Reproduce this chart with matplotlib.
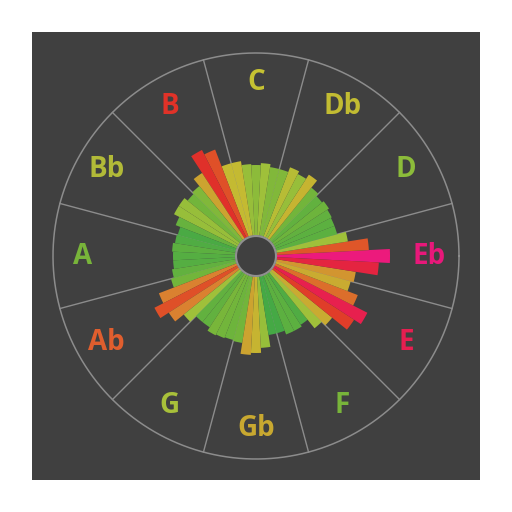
import numpy as np
import matplotlib
matplotlib.use("Agg")
import matplotlib.pyplot as plt
from matplotlib.colors import LinearSegmentedColormap, Normalize

# ---- data ----
keys = ["C", "Db", "D", "Eb", "E", "F", "Gb", "G", "Ab", "A", "Bb", "B"]
key_colors = ["#c6c232", "#c2bc32", "#8cbc3a", "#e8187a", "#e61e50", "#78b43a",
              "#c8a830", "#a8c03a", "#e05e2e", "#78b43a", "#b2ba38", "#e03228"]
# bar angles in degrees (math convention, 0 = Eb direction, counter-clockwise)
bar_angles = list(range(0, 360, 6))
bar_values = [134, 113, 93, 84, 84, 85, 87, 85, 88, 97,
              92, 95, 90, 90, 93, 91, 92, 96, 96, 114,
              119, 99, 90, 88, 92, 92, 86, 81, 82, 84,
              83, 83, 85, 88, 104, 114, 104, 93, 85, 85,
              89, 88, 87, 88, 99, 97, 92, 80, 80, 84,
              84, 82, 93, 98, 117, 125, 109, 98, 101, 123]
# label angle for each key (degrees, math convention)
key_angles = [90, 60, 30, 0, -30, -60, -90, -120, -150, 180, 150, 120]

inner_r = 20
outer_r = 203
label_r = 173

bg = "#404040"
line_col = "#8c8c8c"

vmin, vmax = 78, 134
stops = [(78, "#3aa548"), (84, "#5cb040"), (89, "#78b63a"), (93, "#a0c03a"),
         (96, "#c4ba32"), (99, "#cca430"), (104, "#da8030"), (110, "#dc6a2a"),
         (115, "#e04a28"), (120, "#e02a2a"), (126, "#e81e55"), (134, "#ec1a7c")]
cmap = LinearSegmentedColormap.from_list(
    "keymap", [((v - vmin) / (vmax - vmin), c) for v, c in stops])
norm = Normalize(vmin=vmin, vmax=vmax)

fig = plt.figure(figsize=(5.12, 5.12), dpi=100, facecolor="white")
bgax = fig.add_axes([32 / 512, 32 / 512, 448 / 512, 448 / 512], zorder=0)
bgax.set_facecolor(bg)
bgax.set_xticks([])
bgax.set_yticks([])
for s in bgax.spines.values():
    s.set_visible(False)

lim = 215
size = 2 * lim / 512
ax = fig.add_axes([0.5 - size / 2, 0.5 - size / 2, size, size], projection="polar", zorder=1)
ax.set_facecolor("none")
ax.patch.set_alpha(0)
ax.set_ylim(0, lim)
ax.axis("off")

# sector dividers
for a in key_angles:
    b = np.deg2rad(a + 15)
    ax.plot([b, b], [inner_r, outer_r], color=line_col, lw=1.0, zorder=1)

# outer circle
tt = np.linspace(0, 2 * np.pi, 400)
ax.plot(tt, np.full_like(tt, outer_r), color=line_col, lw=1.1, zorder=1)

# bars
theta = np.deg2rad(bar_angles)
vals = np.array(bar_values, dtype=float)
ax.bar(theta, vals - inner_r, bottom=inner_r, width=np.deg2rad(6),
       color=cmap(norm(vals)), edgecolor="none", linewidth=0, zorder=2)

# hole
ax.fill(tt, np.full_like(tt, inner_r), color=bg, zorder=3)
ax.plot(tt, np.full_like(tt, inner_r), color="#909090", lw=1.5, zorder=4)

# labels
for k, a, c in zip(keys, key_angles, key_colors):
    ax.text(np.deg2rad(a), label_r, k, color=c, fontsize=20, fontweight="bold",
            family="Open Sans", ha="center", va="center", zorder=5)

fig.savefig("out.png", dpi=100, facecolor="white")
